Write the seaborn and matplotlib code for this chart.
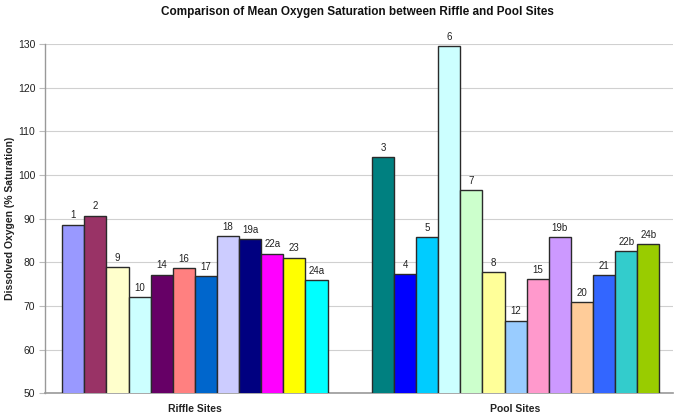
import matplotlib
matplotlib.use("Agg")
import matplotlib.pyplot as plt
import seaborn as sns
import pandas as pd

riffle_sites = ["1", "2", "9", "10", "14", "16", "17", "18", "19a", "22a", "23", "24a"]
riffle_values = [88.6, 90.7, 78.9, 72.0, 77.2, 78.6, 76.8, 86.0, 85.3, 82.0, 81.1, 75.9]
riffle_colors = ["#9999FF", "#993366", "#FFFFCC", "#CCFFFF", "#660066", "#FF8080",
                 "#0066CC", "#CCCCFF", "#000080", "#FF00FF", "#FFFF00", "#00FFFF"]

pool_sites = ["3", "4", "5", "6", "7", "8", "12", "15", "19b", "20", "21", "22b", "24b"]
pool_values = [104.1, 77.3, 85.7, 129.6, 96.6, 77.8, 66.6, 76.1, 85.8, 70.9, 77.0, 82.5, 84.2]
pool_colors = ["#008080", "#0000FF", "#00CCFF", "#CCFFFF", "#CCFFCC", "#FFFF99",
               "#99CCFF", "#FF99CC", "#CC99FF", "#FFCC99", "#3366FF", "#33CCCC", "#99CC00"]

group_labels = ["Riffle Sites", "Pool Sites"]
y_ticks = [50, 60, 70, 80, 90, 100, 110, 120, 130]

spacers = ["_gap1", "_gap2"]
order = riffle_sites + spacers + pool_sites
df = pd.DataFrame({
    "site": riffle_sites + pool_sites,
    "value": riffle_values + pool_values,
})
palette = dict(zip(riffle_sites + pool_sites, riffle_colors + pool_colors))

sns.set_style("white")
plt.rcParams["font.family"] = ["Liberation Sans", "DejaVu Sans"]

fig = plt.figure(figsize=(6.74, 4.13), dpi=100)
ax = fig.add_axes([0.067, 0.048, 0.931, 0.845])

sns.barplot(data=df, x="site", y="value", order=order, hue="site", palette=palette,
            legend=False, width=1.0, edgecolor="#2a2a2a", linewidth=1.0,
            saturation=1.0, ax=ax, zorder=3)

ax.set_ylim(50, 130)
ax.set_yticks(y_ticks)
ax.set_yticklabels([str(t) for t in y_ticks], fontsize=7.5, color="#222222")
ax.set_xlim(-1.27, 27.1)

# data labels
for site, val in zip(df["site"], df["value"]):
    xpos = order.index(site)
    ax.text(xpos, val + 1.0, site, ha="center", va="bottom", fontsize=7, color="#222222")

# group labels
riffle_center = (len(riffle_sites) - 1) / 2
pool_center = len(riffle_sites) + len(spacers) + (len(pool_sites) - 1) / 2
ax.set_xticks([riffle_center, pool_center])
ax.set_xticklabels(group_labels, fontsize=7.5, fontweight="bold", color="#222222")
ax.tick_params(axis="x", length=0, pad=8)
ax.tick_params(axis="y", length=4, color="#bbbbbb", width=0.8, direction="out", pad=3, left=True)

ax.set_xlabel("")
ax.set_ylabel("Dissolved Oxygen (% Saturation)", fontsize=7.5, fontweight="bold", color="#222222")
ax.yaxis.set_label_coords(-0.048, 0.5)

ax.grid(axis="y", color="#d0d0d0", linewidth=0.8, zorder=0)
ax.set_axisbelow(True)
for s in ["top", "right"]:
    ax.spines[s].set_visible(False)
ax.spines["left"].set_color("#999999")
ax.spines["bottom"].set_color("#999999")
ax.spines["left"].set_linewidth(1.0)
ax.spines["bottom"].set_linewidth(1.2)

fig.suptitle("Comparison of Mean Oxygen Saturation between Riffle and Pool Sites",
             fontsize=8.5, fontweight="bold", y=0.985, x=0.53, color="#111111")

fig.savefig("out.png", dpi=100)
